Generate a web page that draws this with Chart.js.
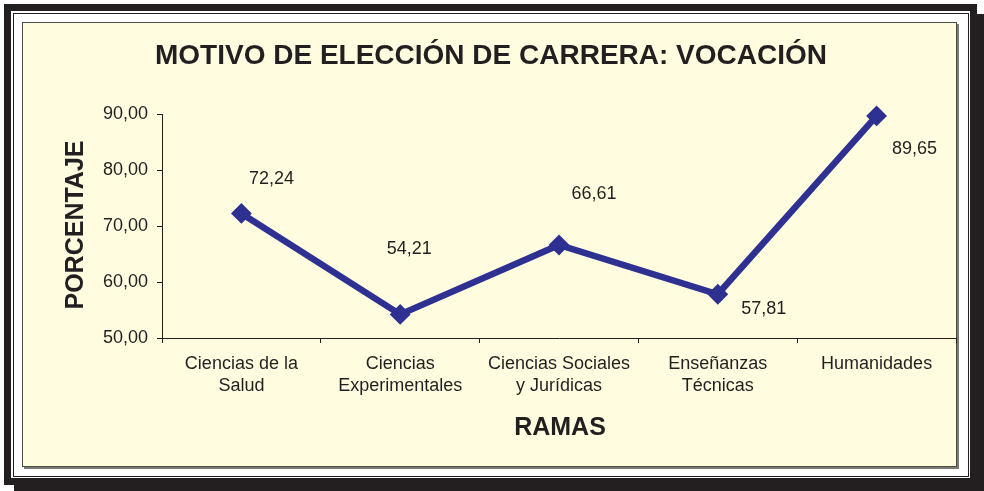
<!DOCTYPE html>
<html>
<head>
<meta charset="utf-8">
<script src="https://cdn.jsdelivr.net/npm/chart.js@4.4.1/dist/chart.umd.min.js"></script>
<style>
  html, body { margin: 0; padding: 0; background: #ffffff; }
  #wrap { position: relative; width: 984px; height: 491px; overflow: hidden; background: #fff; }
  .box { position: absolute; box-sizing: border-box; }
  #chart { position: absolute; left: 0; top: 0; }
</style>
</head>
<body>
<div id="wrap">
  <div class="box" style="left:4px;top:4px;width:973px;height:481px;background:#231f20;"></div>
  <div class="box" style="left:14px;top:14px;width:970px;height:477px;background:#231f20;"></div>
  <div class="box" style="left:11px;top:11px;width:959px;height:467px;background:#ffffff;"></div>
  <div class="box" style="left:13px;top:13px;width:956px;height:464px;border:1.5px solid #231f20;"></div>
  <div class="box" style="left:22px;top:22px;width:935px;height:445px;background:#FFFCE0;border:1px solid #4a4a4a;box-shadow:2px 2px 0 #7a7a72;"></div>
  <canvas id="chart" width="984" height="491"></canvas>
</div>
<script>
const title = 'MOTIVO DE ELECCIÓN DE CARRERA: VOCACIÓN';
const yAxisTitle = 'PORCENTAJE';
const xAxisTitle = 'RAMAS';
const categories = [
  ['Ciencias de la', 'Salud'],
  ['Ciencias', 'Experimentales'],
  ['Ciencias Sociales', 'y Jurídicas'],
  ['Enseñanzas', 'Técnicas'],
  'Humanidades'
];
const vocacion = [72.24, 54.21, 66.61, 57.81, 89.65];
const yMin = 50, yMax = 90, yStep = 10;

// label placement (pixel offsets from each point), kept separate from the data
const labelOffsets = [[30, -34], [9, -65], [35, -51], [46, 15], [38, 33]];

const fmt = v => v.toFixed(2).replace('.', ',');
const FONT = '"Liberation Sans", Arial, Helvetica, sans-serif';
const TXT = '#231f20';
const LINE = '#2E3192';

const textPlugin = {
  id: 'textPlugin',
  afterDraw(chart) {
    const ctx = chart.ctx;
    ctx.save();
    ctx.fillStyle = TXT;
    ctx.textAlign = 'center';
    ctx.textBaseline = 'middle';
    ctx.font = 'bold 28px ' + FONT;
    ctx.fillText(title, 491, 56);
    ctx.font = 'bold 25px ' + FONT;
    ctx.fillText(xAxisTitle, 560, 428);
    ctx.save();
    ctx.translate(76, 225);
    ctx.rotate(-Math.PI / 2);
    ctx.fillText(yAxisTitle, 0, 0);
    ctx.restore();
    const meta = chart.getDatasetMeta(0);
    ctx.font = '18px ' + FONT;
    meta.data.forEach((pt, i) => {
      const o = labelOffsets[i];
      ctx.fillText(fmt(vocacion[i]), pt.x + o[0], pt.y + o[1]);
    });
    ctx.restore();
  }
};

new Chart(document.getElementById('chart'), {
  type: 'line',
  data: {
    labels: categories,
    datasets: [{
      data: vocacion,
      borderColor: LINE,
      backgroundColor: LINE,
      borderWidth: 6.5,
      pointStyle: 'rectRot',
      pointRadius: 9,
      pointBorderWidth: 2,
      pointBackgroundColor: LINE,
      pointBorderColor: LINE,
      tension: 0,
      clip: false
    }]
  },
  options: {
    responsive: false,
    animation: false,
    devicePixelRatio: 1,
    layout: { padding: { left: 0, top: 114, right: 28, bottom: 0 } },
    plugins: { legend: { display: false }, title: { display: false }, tooltip: { enabled: false } },
    scales: {
      x: {
        type: 'category',
        offset: true,
        grid: { offset: true, drawOnChartArea: false, drawTicks: true, tickLength: 5, color: TXT },
        border: { color: TXT, width: 1 },
        ticks: { color: TXT, font: { family: FONT, size: 18, lineHeight: 1.22 }, padding: 10, maxRotation: 0, autoSkip: false },
        afterFit(scale) { scale.height = 153; }
      },
      y: {
        min: yMin, max: yMax,
        grid: { drawOnChartArea: false, drawTicks: true, tickLength: 5, color: TXT },
        border: { color: TXT, width: 1 },
        ticks: { stepSize: yStep, color: TXT, font: { family: FONT, size: 18 }, padding: 9, callback: v => fmt(v) },
        afterFit(scale) { scale.width = 162; }
      }
    }
  },
  plugins: [textPlugin]
});
</script>
</body>
</html>
